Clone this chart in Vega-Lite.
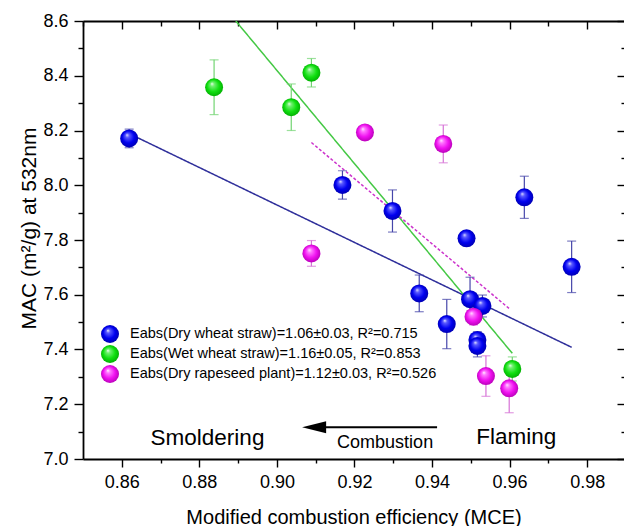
{
  "$schema": "https://vega.github.io/schema/vega-lite/v6.json",
  "width": 541,
  "height": 438,
  "autosize": {"type": "none"},
  "padding": {"left": 83, "top": 21, "right": 0, "bottom": 67},
  "background": "white",
  "config": {
    "view": {"stroke": null},
    "font": "Liberation Sans",
    "axis": {
      "labelFont": "Liberation Sans",
      "titleFont": "Liberation Sans",
      "labelColor": "black",
      "titleColor": "black",
      "domainColor": "black",
      "tickColor": "black",
      "domainWidth": 1.8,
      "tickWidth": 1.4,
      "grid": false,
      "labelFontSize": 18,
      "titleFontSize": 20,
      "titleFontWeight": "normal",
      "labelFlush": false,
      "labelOverlap": false
    }
  },
  "datasets": {
    "points": [
      {"series": "Eabs(Dry wheat straw)=1.06±0.03, R²=0.715", "mce": 0.8619, "mac": 8.171, "err": 0.034},
      {"series": "Eabs(Dry wheat straw)=1.06±0.03, R²=0.715", "mce": 0.9169, "mac": 8.001, "err": 0.052},
      {"series": "Eabs(Dry wheat straw)=1.06±0.03, R²=0.715", "mce": 0.9298, "mac": 7.906, "err": 0.077},
      {"series": "Eabs(Dry wheat straw)=1.06±0.03, R²=0.715", "mce": 0.9367, "mac": 7.605, "err": 0.067},
      {"series": "Eabs(Dry wheat straw)=1.06±0.03, R²=0.715", "mce": 0.9438, "mac": 7.493, "err": 0.09},
      {"series": "Eabs(Dry wheat straw)=1.06±0.03, R²=0.715", "mce": 0.9489, "mac": 7.806, "err": 0.02},
      {"series": "Eabs(Dry wheat straw)=1.06±0.03, R²=0.715", "mce": 0.9498, "mac": 7.584, "err": 0.08},
      {"series": "Eabs(Dry wheat straw)=1.06±0.03, R²=0.715", "mce": 0.953, "mac": 7.559, "err": 0.04},
      {"series": "Eabs(Dry wheat straw)=1.06±0.03, R²=0.715", "mce": 0.9517, "mac": 7.435, "err": 0.03},
      {"series": "Eabs(Dry wheat straw)=1.06±0.03, R²=0.715", "mce": 0.9517, "mac": 7.413, "err": 0.04},
      {"series": "Eabs(Dry wheat straw)=1.06±0.03, R²=0.715", "mce": 0.9638, "mac": 7.956, "err": 0.077},
      {"series": "Eabs(Dry wheat straw)=1.06±0.03, R²=0.715", "mce": 0.976, "mac": 7.702, "err": 0.094},
      {"series": "Eabs(Wet wheat straw)=1.16±0.05, R²=0.853", "mce": 0.8838, "mac": 8.358, "err": 0.1},
      {"series": "Eabs(Wet wheat straw)=1.16±0.05, R²=0.853", "mce": 0.9037, "mac": 8.285, "err": 0.085},
      {"series": "Eabs(Wet wheat straw)=1.16±0.05, R²=0.853", "mce": 0.9089, "mac": 8.411, "err": 0.052},
      {"series": "Eabs(Wet wheat straw)=1.16±0.05, R²=0.853", "mce": 0.9607, "mac": 7.329, "err": 0.044},
      {"series": "Eabs(Dry rapeseed plant)=1.12±0.03, R²=0.526", "mce": 0.9089, "mac": 7.751, "err": 0.047},
      {"series": "Eabs(Dry rapeseed plant)=1.12±0.03, R²=0.526", "mce": 0.9227, "mac": 8.193, "err": 0.02},
      {"series": "Eabs(Dry rapeseed plant)=1.12±0.03, R²=0.526", "mce": 0.9429, "mac": 8.151, "err": 0.069},
      {"series": "Eabs(Dry rapeseed plant)=1.12±0.03, R²=0.526", "mce": 0.9507, "mac": 7.52, "err": 0.03},
      {"series": "Eabs(Dry rapeseed plant)=1.12±0.03, R²=0.526", "mce": 0.9539, "mac": 7.303, "err": 0.074},
      {"series": "Eabs(Dry rapeseed plant)=1.12±0.03, R²=0.526", "mce": 0.9599, "mac": 7.258, "err": 0.089}
    ],
    "fits": [
      {"series": "Eabs(Dry wheat straw)=1.06±0.03, R²=0.715", "mce": 0.8636, "mac": 8.177},
      {"series": "Eabs(Dry wheat straw)=1.06±0.03, R²=0.715", "mce": 0.976, "mac": 7.408},
      {"series": "Eabs(Wet wheat straw)=1.16±0.05, R²=0.853", "mce": 0.8894, "mac": 8.6},
      {"series": "Eabs(Wet wheat straw)=1.16±0.05, R²=0.853", "mce": 0.9607, "mac": 7.386},
      {"series": "Eabs(Dry rapeseed plant)=1.12±0.03, R²=0.526", "mce": 0.9089, "mac": 8.156},
      {"series": "Eabs(Dry rapeseed plant)=1.12±0.03, R²=0.526", "mce": 0.9601, "mac": 7.547}
    ],
    "notes": [
      {"label": "Smoldering", "kind": "big", "mce": 0.8821, "mac": 7.052},
      {"label": "Flaming", "kind": "big", "mce": 0.9617, "mac": 7.056},
      {"label": "Combustion", "kind": "small", "mce": 0.9279, "mac": 7.041}
    ],
    "arrow": [
      {"mce": 0.9096, "mce2": 0.9413, "mac": 7.116}
    ]
  },
  "layer": [
    {
      "data": {"name": "points"},
      "mark": {"type": "circle", "size": 0, "opacity": 0},
      "encoding": {
        "x": {
          "field": "mce", "type": "quantitative",
          "scale": {"domain": [0.85, 0.9895], "nice": false, "zero": false},
          "axis": {
            "orient": "bottom",
            "title": "Modified combustion efficiency (MCE)",
            "values": [0.86, 0.87, 0.88, 0.89, 0.9, 0.91, 0.92, 0.93, 0.94, 0.95, 0.96, 0.97, 0.98],
            "labelExpr": "round(datum.value*100)%2==0 ? format(datum.value, '.2f') : ''",
            "tickSize": {"condition": {"test": "round(datum.value*100)%2==0", "value": 8}, "value": 4},
            "labelPadding": 6,
            "titleFontSize": 20,
            "titleBaseline": "alphabetic",
            "titleY": 64
          }
        },
        "y": {
          "field": "mac", "type": "quantitative",
          "scale": {"domain": [7.0, 8.6], "nice": false, "zero": false},
          "axis": {
            "orient": "left",
            "title": "MAC (m²/g) at 532nm",
            "values": [7.0, 7.1, 7.2, 7.3, 7.4, 7.5, 7.6, 7.7, 7.8, 7.9, 8.0, 8.1, 8.2, 8.3, 8.4, 8.5, 8.6],
            "labelExpr": "round(datum.value*10)%2==0 ? format(datum.value, '.1f') : ''",
            "tickSize": {"condition": {"test": "round(datum.value*10)%2==0", "value": 9}, "value": 5},
            "labelPadding": 6,
            "titleFontSize": 21,
            "titleBaseline": "alphabetic",
            "titleAngle": 270,
            "titleX": -48,
            "titleY": 207,
            "titleAlign": "center"
          }
        }
      }
    },
    {
      "data": {"name": "points"},
      "mark": {"type": "circle", "size": 0, "opacity": 0},
      "encoding": {
        "x": {
          "field": "mce", "type": "quantitative",
          "scale": {"domain": [0.85, 0.9895], "nice": false, "zero": false},
          "axis": {
            "title": null,
            "labels": true,
            "tickCount": 14,
            "domainColor": "black",
            "tickColor": "black",
            "labelOpacity": 0,
            "tickSize": {"condition": {"test": "round(datum.value*100)%2==0", "value": -8}, "value": -5}
          }
        },
        "y": {
          "field": "mac", "type": "quantitative",
          "scale": {"domain": [7.0, 8.6], "nice": false, "zero": false},
          "axis": {
            "title": null,
            "labels": true,
            "tickCount": 16,
            "domain": false,
            "domainColor": "black",
            "tickColor": "black",
            "labelOpacity": 0,
            "tickSize": {"condition": {"test": "round(datum.value*10)%2==0", "value": -7}, "value": -3}
          }
        }
      }
    },
    {
      "data": {"name": "fits"},
      "mark": {"type": "line", "clip": true, "strokeWidth": 1.5},
      "encoding": {
        "x": {"field": "mce", "type": "quantitative", "scale": {"domain": [0.85, 0.9895], "nice": false, "zero": false}, "axis": null},
        "y": {"field": "mac", "type": "quantitative", "scale": {"domain": [7.0, 8.6], "nice": false, "zero": false}, "axis": null},
        "color": {
          "field": "series", "type": "nominal", "legend": null,
          "scale": {
            "domain": ["Eabs(Dry wheat straw)=1.06±0.03, R²=0.715", "Eabs(Wet wheat straw)=1.16±0.05, R²=0.853", "Eabs(Dry rapeseed plant)=1.12±0.03, R²=0.526"],
            "range": ["#2e2e9a", "#44c844", "#cc33cc"]
          }
        },
        "strokeDash": {
          "field": "series", "type": "nominal", "legend": null,
          "scale": {
            "domain": ["Eabs(Dry wheat straw)=1.06±0.03, R²=0.715", "Eabs(Wet wheat straw)=1.16±0.05, R²=0.853", "Eabs(Dry rapeseed plant)=1.12±0.03, R²=0.526"],
            "range": [[1, 0], [1, 0], [3, 2]]
          }
        }
      }
    },
    {
      "data": {"name": "points"},
      "mark": {"type": "errorbar", "ticks": {"size": 9}, "thickness": 1.2},
      "encoding": {
        "x": {"field": "mce", "type": "quantitative", "scale": {"domain": [0.85, 0.9895], "nice": false, "zero": false}, "axis": null},
        "y": {"field": "mac", "type": "quantitative", "scale": {"domain": [7.0, 8.6], "nice": false, "zero": false}, "axis": null},
        "yError": {"field": "err"},
        "color": {
          "field": "series", "type": "nominal", "legend": null,
          "scale": {
            "domain": ["Eabs(Dry wheat straw)=1.06±0.03, R²=0.715", "Eabs(Wet wheat straw)=1.16±0.05, R²=0.853", "Eabs(Dry rapeseed plant)=1.12±0.03, R²=0.526"],
            "range": ["#4646aa", "#72d472", "#d672d6"]
          }
        }
      }
    },
    {
      "data": {"name": "points"},
      "mark": {"type": "circle", "size": 324, "opacity": 1, "strokeWidth": 0},
      "encoding": {
        "x": {"field": "mce", "type": "quantitative", "scale": {"domain": [0.85, 0.9895], "nice": false, "zero": false}, "axis": null},
        "y": {"field": "mac", "type": "quantitative", "scale": {"domain": [7.0, 8.6], "nice": false, "zero": false}, "axis": null},
        "color": {
          "field": "series", "type": "nominal",
          "scale": {
            "domain": ["Eabs(Dry wheat straw)=1.06±0.03, R²=0.715", "Eabs(Wet wheat straw)=1.16±0.05, R²=0.853", "Eabs(Dry rapeseed plant)=1.12±0.03, R²=0.526"],
            "range": [
              {"expr": "{gradient: 'radial', x1: 0.38, y1: 0.3, r1: 0, x2: 0.5, y2: 0.5, r2: 0.55, stops: [{offset: 0, color: '#eeeeff'}, {offset: 0.2, color: '#5a5aff'}, {offset: 0.6, color: '#0000f0'}, {offset: 1, color: '#0000a8'}]}"},
              {"expr": "{gradient: 'radial', x1: 0.38, y1: 0.3, r1: 0, x2: 0.5, y2: 0.5, r2: 0.55, stops: [{offset: 0, color: '#f0fff0'}, {offset: 0.2, color: '#70f070'}, {offset: 0.6, color: '#10e010'}, {offset: 1, color: '#00a800'}]}"},
              {"expr": "{gradient: 'radial', x1: 0.38, y1: 0.3, r1: 0, x2: 0.5, y2: 0.5, r2: 0.55, stops: [{offset: 0, color: '#fff0ff'}, {offset: 0.2, color: '#ff78ff'}, {offset: 0.6, color: '#f010f0'}, {offset: 1, color: '#b000b0'}]}"}
            ]
          },
          "legend": {
            "orient": "none",
            "legendX": 18,
            "legendY": 304,
            "title": null,
            "padding": 0,
            "symbolType": "circle",
            "symbolSize": 324,
            "symbolStrokeWidth": 0,
            "symbolOpacity": 1,
            "labelFont": "Liberation Sans",
            "labelFontSize": 14.5,
            "labelColor": "black",
            "labelOffset": 11,
            "labelLimit": 500,
            "rowPadding": 2
          }
        }
      }
    },
    {
      "data": {"name": "notes"},
      "transform": [{"filter": "datum.kind == 'big'"}],
      "mark": {"type": "text", "fontSize": 22.5, "align": "center", "baseline": "alphabetic", "font": "Liberation Sans", "color": "black"},
      "encoding": {
        "x": {"field": "mce", "type": "quantitative", "scale": {"domain": [0.85, 0.9895], "nice": false, "zero": false}, "axis": null},
        "y": {"field": "mac", "type": "quantitative", "scale": {"domain": [7.0, 8.6], "nice": false, "zero": false}, "axis": null},
        "text": {"field": "label"}
      }
    },
    {
      "data": {"name": "notes"},
      "transform": [{"filter": "datum.kind == 'small'"}],
      "mark": {"type": "text", "fontSize": 18, "align": "center", "baseline": "alphabetic", "font": "Liberation Sans", "color": "black"},
      "encoding": {
        "x": {"field": "mce", "type": "quantitative", "scale": {"domain": [0.85, 0.9895], "nice": false, "zero": false}, "axis": null},
        "y": {"field": "mac", "type": "quantitative", "scale": {"domain": [7.0, 8.6], "nice": false, "zero": false}, "axis": null},
        "text": {"field": "label"}
      }
    },
    {
      "data": {"name": "arrow"},
      "mark": {"type": "rule", "color": "black", "strokeWidth": 2},
      "encoding": {
        "x": {"field": "mce", "type": "quantitative", "scale": {"domain": [0.85, 0.9895], "nice": false, "zero": false}, "axis": null},
        "x2": {"field": "mce2"},
        "y": {"field": "mac", "type": "quantitative", "scale": {"domain": [7.0, 8.6], "nice": false, "zero": false}, "axis": null}
      }
    },
    {
      "data": {"name": "arrow"},
      "mark": {"type": "point", "shape": "M-1,0L1,-0.5L1,0.5Z", "size": 576, "filled": true, "color": "black", "opacity": 1, "strokeWidth": 0},
      "encoding": {
        "x": {"field": "mce", "type": "quantitative", "scale": {"domain": [0.85, 0.9895], "nice": false, "zero": false}, "axis": null},
        "y": {"field": "mac", "type": "quantitative", "scale": {"domain": [7.0, 8.6], "nice": false, "zero": false}, "axis": null}
      }
    }
  ],
  "resolve": {
    "scale": {"x": "independent", "y": "independent", "color": "independent", "strokeDash": "independent"},
    "axis": {"x": "independent", "y": "independent"}
  }
}
